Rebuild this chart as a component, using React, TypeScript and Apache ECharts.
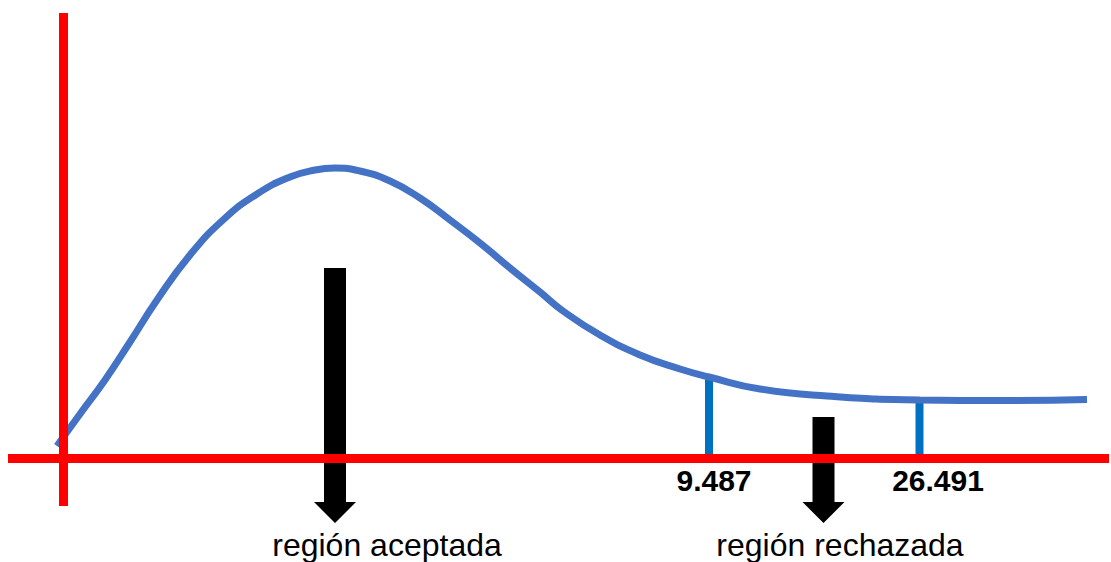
import React, { useEffect, useRef } from "react";
import * as echarts from "echarts";

// Schematic units: origin at the crossing of the two red axes.
const curveX = [-6.5, 16.5, 41.5, 66.5, 93.5, 126.5, 159.5, 193.5, 226.5, 251.5, 271.5, 296.5, 326.5, 356.5, 386.5, 416.5, 446.5, 476.5, 499.5, 536.5, 576.5, 616.5, 645.5, 696.5, 763.5, 856.5, 936.5, 1023.5];
const curveY = [12.5, 44.5, 78.5, 116.5, 158.5, 203.5, 238.5, 264.5, 281.5, 288.5, 290.5, 287.5, 277.5, 260.5, 238.5, 215.5, 190.5, 166.5, 147.5, 123.5, 103.5, 89.5, 81.5, 69.5, 62.5, 58.5, 58, 59];

const criticalX = [645.5, 856];
const criticalTop = [79, 57.5];
const criticalLabels = ["9.487", "26.491"];

const arrowX = [271.5, 760];
const arrowTop = [190.5, 41.5];
const arrowTip = [-64.5, -64.5];
const arrowLabels = ["región aceptada", "región rechazada"];

const axisV = [[0, 445.5], [0, -47.5]];
const axisH = [[-55.5, 0], [1045.5, 0]];

const FONT = "'Liberation Sans', Arial, Helvetica, sans-serif";

export default function App() {
  const ref = useRef<HTMLDivElement>(null);
  useEffect(() => {
    if (!ref.current) return;
    const chart = echarts.init(ref.current, undefined, { renderer: "svg" });
    const criticalShift = [5, 18.5];
    const arrowShift = [52, 16.5];
    chart.setOption({
      animation: false,
      grid: { left: 0, right: 0, top: 0, bottom: 0, containLabel: false },
      xAxis: { type: "value", min: -63.5, max: 1047.5, show: false },
      yAxis: { type: "value", min: -103.5, max: 458.5, show: false },
      series: [
        {
          type: "custom",
          name: "critical",
          z: 1,
          data: criticalX.map((x, i) => [x, criticalTop[i], i]),
          renderItem: (params: any, api: any) => {
            const i = api.value(2);
            const p0 = api.coord([api.value(0), 0]);
            const p1 = api.coord([api.value(0), api.value(1)]);
            return {
              type: "group",
              children: [
                {
                  type: "line",
                  shape: { x1: p0[0], y1: p0[1], x2: p1[0], y2: p1[1] },
                  style: { stroke: "#0070C0", lineWidth: 8 },
                },
                {
                  type: "text",
                  x: p0[0] + criticalShift[i],
                  y: p0[1] + 22,
                  style: {
                    text: criticalLabels[i],
                    font: `bold 30px ${FONT}`,
                    fill: "#000000",
                    align: "center",
                    verticalAlign: "middle",
                  },
                },
              ],
            };
          },
        },
        {
          type: "line",
          name: "curve",
          z: 2,
          data: curveX.map((x, i) => [x, curveY[i]]),
          smooth: 0.5,
          showSymbol: false,
          symbol: "none",
          lineStyle: { color: "#4472C4", width: 7 },
        },
        {
          type: "custom",
          name: "arrows",
          z: 3,
          data: arrowX.map((x, i) => [x, arrowTop[i], arrowTip[i], i]),
          renderItem: (params: any, api: any) => {
            const i = api.value(3);
            const pTop = api.coord([api.value(0), api.value(1)]);
            const pTip = api.coord([api.value(0), api.value(2)]);
            const cx = pTop[0];
            const headLen = 21;
            const sh = 11;
            const hh = 21;
            const baseY = pTip[1] - headLen;
            return {
              type: "group",
              children: [
                {
                  type: "polygon",
                  shape: {
                    points: [
                      [cx - sh, pTop[1]],
                      [cx + sh, pTop[1]],
                      [cx + sh, baseY],
                      [cx + hh, baseY],
                      [cx, pTip[1]],
                      [cx - hh, baseY],
                      [cx - sh, baseY],
                    ],
                  },
                  style: { fill: "#000000" },
                },
                {
                  type: "text",
                  x: cx + arrowShift[i],
                  y: pTip[1] + 22,
                  style: {
                    text: arrowLabels[i],
                    font: `32px ${FONT}`,
                    fill: "#000000",
                    align: "center",
                    verticalAlign: "middle",
                  },
                },
              ],
            };
          },
        },
        {
          type: "line",
          name: "axisV",
          z: 4,
          data: axisV,
          symbol: "none",
          lineStyle: { color: "#FF0000", width: 9, cap: "butt" },
        },
        {
          type: "line",
          name: "axisH",
          z: 4,
          data: axisH,
          symbol: "none",
          lineStyle: { color: "#FF0000", width: 9, cap: "butt" },
        },
      ],
    });
    return () => chart.dispose();
  }, []);
  return (
    <div
      ref={ref}
      style={{ position: "absolute", left: 0, top: 0, width: 1111, height: 562, background: "#ffffff" }}
    />
  );
}
